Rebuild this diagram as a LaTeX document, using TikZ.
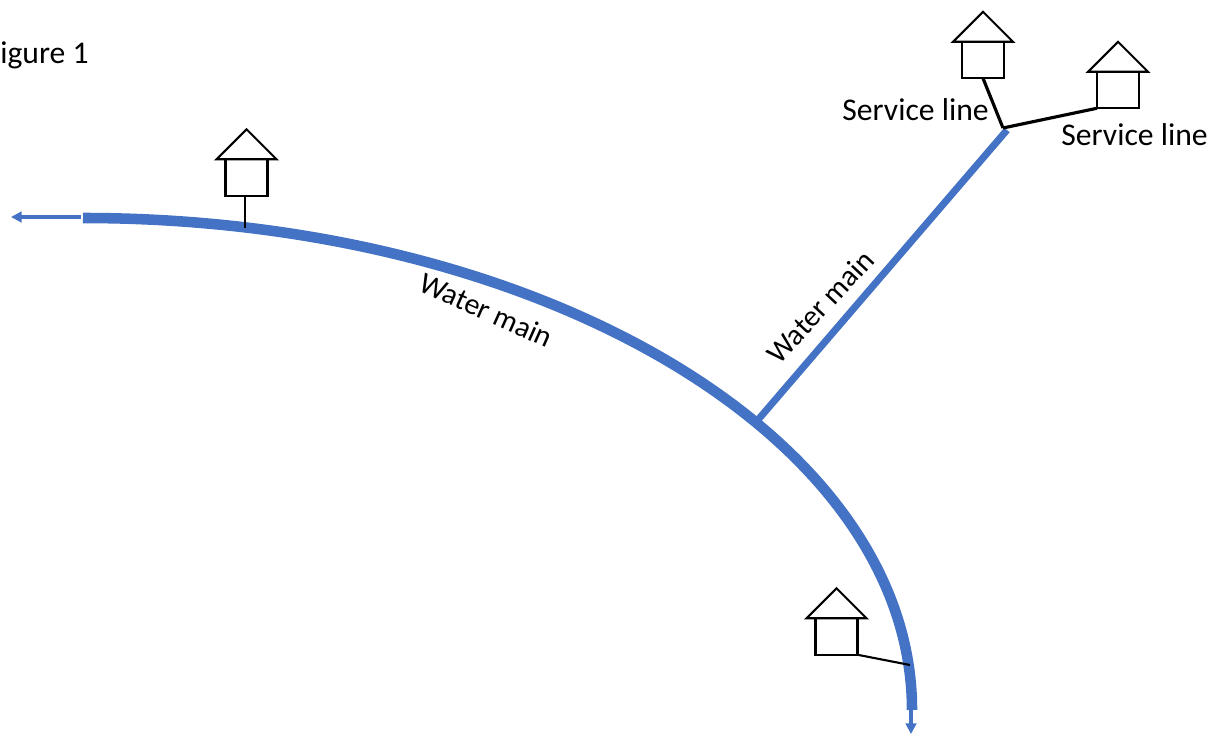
\documentclass[tikz,border=0pt]{standalone}
\usepackage{fontspec}
\setmainfont{Carlito}
\usepackage{xcolor}
\usetikzlibrary{arrows.meta,positioning,shapes.geometric}
\definecolor{mainblue}{HTML}{4472C4}

\begin{document}
\begin{tikzpicture}[
    x=0.02cm, y=-0.02cm,
    housebody/.style={draw, line width=1.2pt, minimum width=0.84cm, minimum height=0.73cm, inner sep=0pt, outer sep=0pt},
    houseroof/.style={draw, line width=1.2pt, isosceles triangle, isosceles triangle apex angle=90, isosceles triangle stretches, shape border rotate=90, minimum width=1.2cm, minimum height=0.6cm, inner sep=0pt, outer sep=0pt},
    service/.style={line width=1.2pt},
    serviceheavy/.style={line width=1.8pt},
    watermain/.style={mainblue, line width=6pt},
    waterbranch/.style={mainblue, line width=4pt},
    flow/.style={mainblue, line width=1.9pt, -{Triangle[length=6pt,width=6pt]}},
    label/.style={inner sep=0pt, font=\fontsize{18}{22}\selectfont},
    pipelabel/.style={inner sep=0pt, font=\fontsize{17}{21}\selectfont}
]
\useasboundingbox (0,0) rectangle (1217,740);

\node[housebody] (house1) at (246.5,177.5) {};
\node[houseroof, above=0pt of house1] (roof1) {};
\node[housebody] (house2) at (983,60) {};
\node[houseroof, above=0pt of house2] (roof2) {};
\node[housebody] (house3) at (1118,90) {};
\node[houseroof, above=0pt of house3] (roof3) {};
\node[housebody] (house4) at (836.5,636.5) {};
\node[houseroof, above=0pt of house4] (roof4) {};

\coordinate (mainwest) at (83,218);
\coordinate (mainsouth) at (912,710);
\coordinate (junction) at (757,421);
\coordinate (branchend) at (1007,130);
\coordinate (tee) at (1003,128);
\coordinate (tap1) at (245,228);
\coordinate (tap4) at (910,665);
\coordinate (westtip) at (11,217);
\coordinate (southtip) at (911,734);

\draw[watermain] (mainwest) .. controls (541,218) and (912,438) .. (mainsouth);
\draw[waterbranch] (junction) -- (branchend);
\draw[flow] ([xshift=-1pt]mainwest |- westtip) -- (westtip);
\draw[flow] (southtip |- mainsouth) -- (southtip);

\draw[service] (house1.south -| tap1) -- (tap1);
\draw[service] (house4.south east) -- (tap4);
\draw[serviceheavy] (house2.south) -- (tee);
\draw[serviceheavy] (house3.south west) -- (tee);

\node[label, anchor=base west] (figlabel) at (0,64) {igure 1};
\node[label] (service2) at (915.5,110) {Service line};
\node[label] (service3) at (1134.5,135) {Service line};
\node[pipelabel, rotate=-24] (mainlabel1) at (486,310) {Water main};
\node[pipelabel, rotate=47] (mainlabel2) at (820,307) {Water main};
\end{tikzpicture}
\end{document}
